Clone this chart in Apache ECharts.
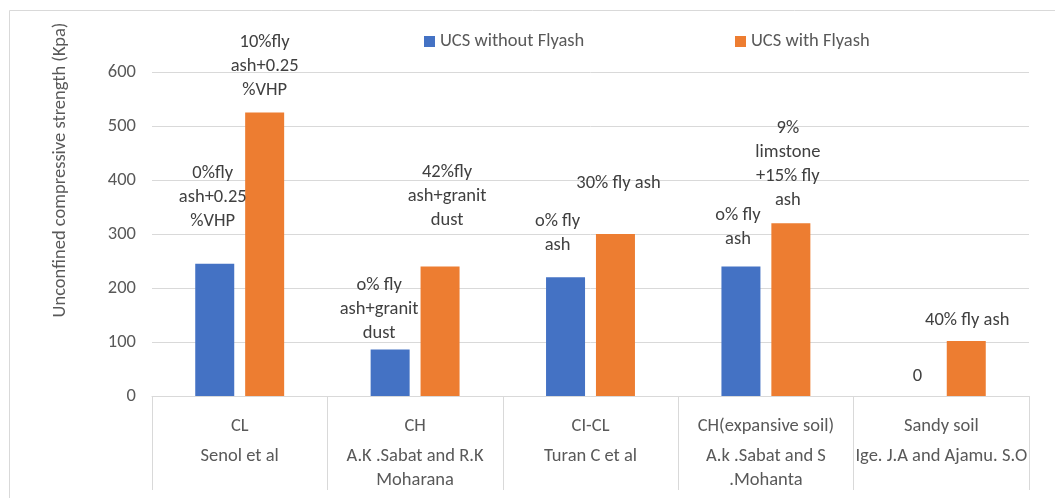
<!DOCTYPE html>
<html lang="en">
<head>
	<meta charset="UTF-8">
	<title>UCS with and without fly ash</title>
	<script src="https://cdn.jsdelivr.net/npm/echarts@6/dist/echarts.min.js"></script>
	<style>
		body { margin: 0; background: #fff; }
		#main { width: 1055px; height: 498px; }
	</style>
</head>
<body>
	<div id="main"></div>
<script type="text/javascript">
	// data
	var soilTypes = ['CL', 'CH', 'CI-CL', 'CH(expansive soil)', 'Sandy soil'];
	var authors = ['Senol et al', 'A.K .Sabat and R.K\nMoharana', 'Turan C et al', 'A.k .Sabat and S\n.Mohanta', 'Ige. J.A and Ajamu. S.O'];
	var seriesNames = ['UCS without Flyash', 'UCS with Flyash'];
	var ucsWithout = [245, 86, 220, 240, 0];
	var ucsWith = [525, 240, 300, 320, 102];
	var labelsWithout = ['0%fly\nash+0.25\n%VHP', 'o% fly\nash+granit\ndust', 'o% fly\nash', 'o% fly\nash', '0'];
	var labelsWith = ['10%fly\nash+0.25\n%VHP', '42%fly\nash+granit\ndust', '30% fly ash', '9%\nlimstone\n+15% fly\nash', '40% fly ash'];
	var yTicks = [0, 100, 200, 300, 400, 500, 600];

	// where excel moved the data labels
	var offsetsWithout = [[-2, -30], [-11, -4], [-8, -20], [-3, -15], [1, -8]];
	var offsetsWith = [[0, -10], [7, -34], [3, -39], [-3, -11], [1, -9]];

	var font = 'Carlito, Calibri, "Noto Sans", sans-serif';
	var fs = 18.5;
	var grey = '#595959';
	var lineGrey = '#d9d9d9';

	function items(vals, labels, offsets) {
		var out = [];
		for (var i = 0; i < vals.length; i++) {
			out.push({
				value: vals[i],
				label: { formatter: labels[i], offset: offsets[i] }
			});
		}
		return out;
	}

	var labelStyle = {
		show: true,
		position: 'top',
		distance: 0,
		color: '#404040',
		fontFamily: font,
		fontSize: fs,
		lineHeight: 24,
		align: 'center'
	};

	var myChart = echarts.init(document.getElementById('main'));
	myChart.setOption({
		animation: false,
		textStyle: { fontFamily: font },
		grid: { left: 152, right: 26, top: 72, bottom: 102 },
		legend: [
			{
				data: [seriesNames[0]], left: 419, top: 27, icon: 'rect',
				itemWidth: 11, itemHeight: 11, itemGap: 5,
				textStyle: { color: grey, fontSize: fs, fontFamily: font }
			},
			{
				data: [seriesNames[1]], left: 730, top: 27, icon: 'rect',
				itemWidth: 11, itemHeight: 11, itemGap: 5,
				textStyle: { color: grey, fontSize: fs, fontFamily: font }
			}
		],
		graphic: [
			{
				type: 'rect', silent: true, z: -10,
				shape: { x: 9.5, y: 10.5, width: 1100, height: 600 },
				style: { fill: 'none', stroke: lineGrey, lineWidth: 1 }
			},
			{
				type: 'text', x: 60, y: 170, rotation: Math.PI / 2,
				style: {
					text: 'Unconfined compressive strength (Kpa)',
					fill: grey, font: fs + 'px ' + font,
					align: 'center', verticalAlign: 'middle'
				}
			}
		],
		xAxis: {
			type: 'category',
			data: soilTypes,
			axisLine: { lineStyle: { color: lineGrey } },
			axisTick: { show: true, interval: 0, length: 94, lineStyle: { color: lineGrey } },
			axisLabel: {
				interval: 0,
				margin: 12,
				formatter: function (v, i) {
					return '{a|' + v + '}\n{b|' + authors[i] + '}';
				},
				rich: {
					a: { color: grey, fontSize: fs, fontFamily: font, lineHeight: 36, align: 'center' },
					b: { color: grey, fontSize: fs, fontFamily: font, lineHeight: 24, align: 'center' }
				}
			}
		},
		yAxis: {
			type: 'value',
			min: yTicks[0],
			max: yTicks[yTicks.length - 1],
			interval: 100,
			axisLine: { show: false },
			axisTick: { show: false },
			axisLabel: { color: grey, fontSize: fs, fontFamily: font, margin: 16 },
			splitLine: { lineStyle: { color: lineGrey, width: 1 } }
		},
		series: [
			{
				name: seriesNames[0],
				type: 'bar',
				barWidth: 39,
				barGap: '28%',
				itemStyle: { color: '#4472C4' },
				label: labelStyle,
				data: items(ucsWithout, labelsWithout, offsetsWithout)
			},
			{
				name: seriesNames[1],
				type: 'bar',
				barWidth: 39,
				barGap: '28%',
				itemStyle: { color: '#ED7D31' },
				label: labelStyle,
				data: items(ucsWith, labelsWith, offsetsWith)
			}
		]
	});
</script>
</body>
</html>
